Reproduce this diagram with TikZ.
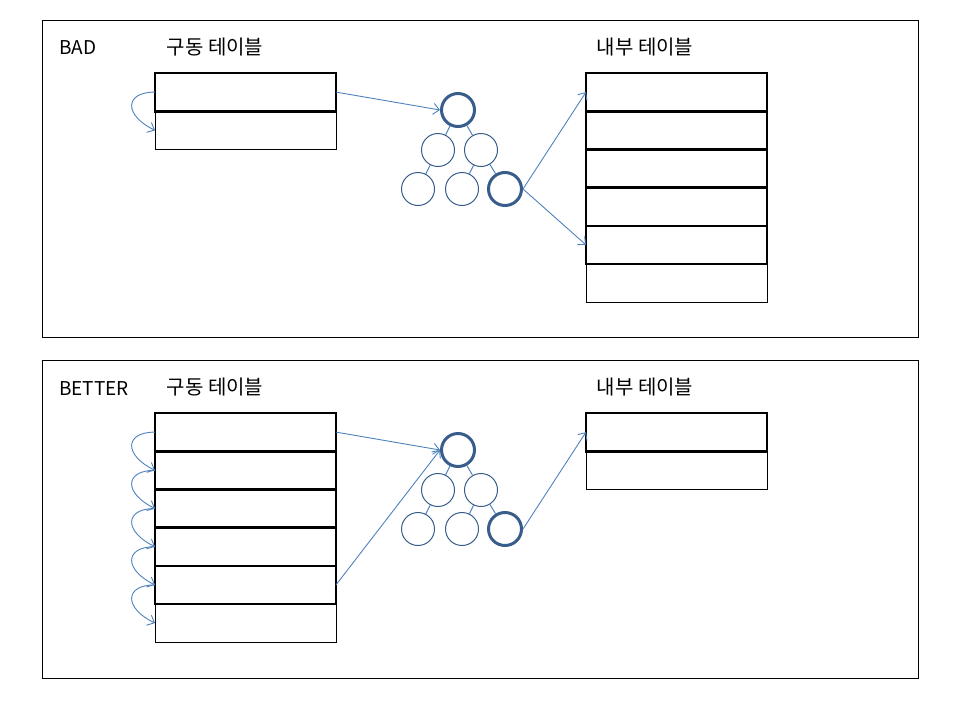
\documentclass[tikz,border=0pt]{standalone}
\usepackage{fontspec}
\setmainfont{Noto Sans CJK KR}
\usetikzlibrary{arrows.meta}
\definecolor{arrowblue}{RGB}{79,129,189}
\definecolor{nodeblue}{RGB}{56,93,138}
\tikzset{
 rowbox/.style={draw=black, minimum width=181pt, minimum height=38.2pt, inner sep=0pt, outer sep=0pt, anchor=north west},
 boldrow/.style={rowbox, line width=2.6pt},
 thinrow/.style={rowbox, line width=1pt},
 treenode/.style={circle, draw=nodeblue, fill=white, minimum size=33pt, inner sep=0pt, line width=1pt},
 hotnode/.style={treenode, line width=3pt},
 treeedge/.style={draw=arrowblue, line width=1pt},
 ptr/.style={draw=arrowblue, line width=0.9pt, -{Straight Barb[length=6pt,width=11pt]}},
 panel/.style={draw=black, line width=1pt, minimum width=876pt, inner sep=0pt, outer sep=0pt, anchor=north west},
 headtext/.style={font=\fontsize{20}{22}\selectfont, inner sep=0pt},
 latintext/.style={font=\fontsize{19}{21}\selectfont, inner sep=0pt},
}
\begin{document}
\begin{tikzpicture}[x=1pt,y=-1pt]
\useasboundingbox (0,0) rectangle (960,720);
% panels
\node[panel, minimum height=317pt] (P1) at (42,20) {};
\node[panel, minimum height=318pt] (P2) at (42,360) {};
% titles
\node[latintext, anchor=west] (bad) at (59,48) {BAD};
\node[headtext] (k1) at (215,47) {구동 테이블};
\node[headtext] (k2) at (645,47) {내부 테이블};
\node[latintext, anchor=west] (better) at (59,389) {BETTER};
\node[headtext] (k3) at (215,387) {구동 테이블};
\node[headtext] (k4) at (645,387) {내부 테이블};
% top-left table
\node[thinrow] (A2) at (155,111.2) {};
\node[boldrow] (A1) at (155,73) {};
% top-right table
\node[thinrow] (B6) at (586,264) {};
\foreach \i in {1,...,5}{
  \node[boldrow] (B\i) at (586,{73+(\i-1)*38.2}) {};
}
% bottom-left table
\node[thinrow] (C6) at (155,604) {};
\foreach \i in {1,...,5}{
  \node[boldrow] (C\i) at (155,{413+(\i-1)*38.2}) {};
}
% bottom-right table
\node[thinrow] (D2) at (586,451.2) {};
\node[boldrow] (D1) at (586,413) {};
% trees
\foreach \p/\dy in {1/0,2/340}{
 \begin{scope}[shift={(0,\dy)}]
  \node[hotnode] (T\p a) at (458,110) {};
  \node[treenode] (T\p b) at (438,150) {};
  \node[treenode] (T\p c) at (481,150) {};
  \node[treenode] (T\p d) at (418,189) {};
  \node[treenode] (T\p e) at (462,189) {};
  \node[hotnode] (T\p f) at (505,189) {};
  \draw[treeedge] (T\p a) -- (T\p b);
  \draw[treeedge] (T\p a) -- (T\p c);
  \draw[treeedge] (T\p b) -- (T\p d);
  \draw[treeedge] (T\p c) -- (T\p e);
  \draw[treeedge] (T\p c) -- (T\p f);
 \end{scope}
}
% top pointers
\draw[ptr] (A1.west) .. controls +(-31,0) and +(-31,-15) .. (A2.west);
\draw[ptr] (A1.east) -- (T1a.west);
\draw[ptr] (T1f.east) -- (B1.west);
\draw[ptr] (T1f.east) -- (B5.west);
% bottom pointers
\foreach \i/\j in {1/2,2/3,3/4,4/5,5/6}{
  \draw[ptr] (C\i.west) .. controls +(-31,0) and +(-31,-15) .. (C\j.west);
}
\draw[ptr] (C1.east) -- (T2a.west);
\draw[ptr] (C5.east) -- (T2a.west);
\draw[ptr] (T2f.east) -- (D1.west);
\end{tikzpicture}
\end{document}
